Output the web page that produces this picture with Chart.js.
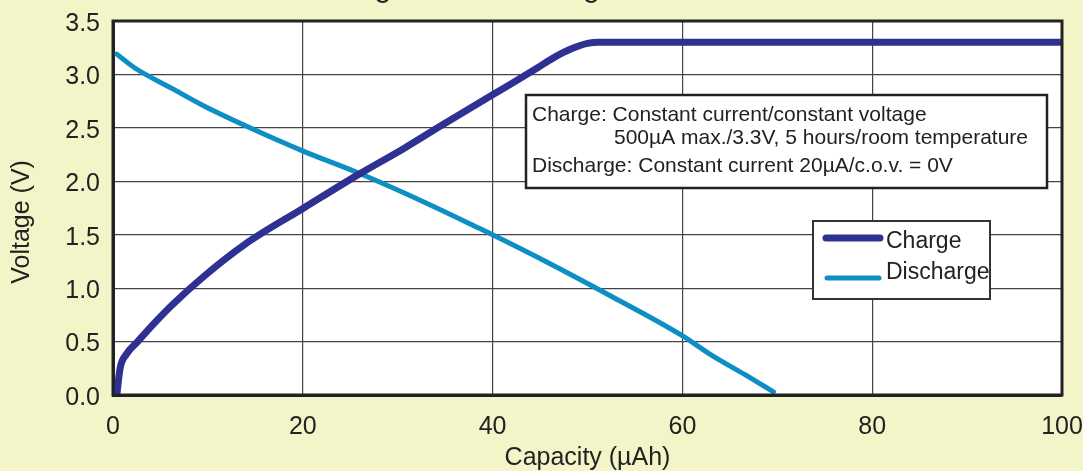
<!DOCTYPE html>
<html>
<head>
<meta charset="utf-8">
<script src="https://cdn.jsdelivr.net/npm/chart.js@4"></script>
<style>
html,body{margin:0;padding:0;background:#f3f4c8;}
#wrap{width:1083px;height:471px;position:relative;}
</style>
</head>
<body>
<div id="wrap"><canvas id="c" width="1083" height="471"></canvas></div>
<script>
// ---- data ----
const chartTitle = "Charge and Discharge Characteristics";
const xTicks = [0, 20, 40, 60, 80, 100];
const yTicks = [0.0, 0.5, 1.0, 1.5, 2.0, 2.5, 3.0, 3.5];

const chargeX = [0.4, 0.75, 1.4, 2.6, 3.7, 6.2, 9.7, 13.9, 20.1, 25.8, 30.7, 34.2, 40.0, 42.1, 44.7, 46.5, 48.3, 50.0, 51.2, 100];
const chargeY = [0.0, 0.25, 0.38, 0.50, 0.61, 0.84, 1.12, 1.41, 1.75, 2.06, 2.31, 2.50, 2.81, 2.92, 3.06, 3.16, 3.24, 3.29, 3.30, 3.30];

const dischargeX = [0.4, 2.3, 6.2, 9.7, 14.2, 20.1, 25.8, 30.7, 38.6, 40.0, 45.6, 52.6, 59.9, 63.1, 66.6, 69.6];
const dischargeY = [3.19, 3.06, 2.87, 2.70, 2.51, 2.28, 2.08, 1.89, 1.56, 1.50, 1.25, 0.92, 0.56, 0.37, 0.19, 0.03];

const seriesLabels = ["Charge", "Discharge"];
const noteLines = [
  "Charge: Constant current/constant voltage",
  "500\u00b5A max./3.3V, 5 hours/room temperature",
  "Discharge: Constant current 20\u00b5A/c.o.v. = 0V"
];

const FONT = "'Liberation Sans', Arial, sans-serif";
const TXT = "#222";

const toPts = (xs, ys) => xs.map((x, i) => ({x: x, y: ys[i]}));

const noPad = (s) => { s.paddingLeft = 0; s.paddingRight = 0; s.paddingTop = 0; s.paddingBottom = 0; };

const plotBg = {
  id: 'plotBg',
  beforeDraw(chart) {
    const {ctx, chartArea: a} = chart;
    ctx.save();
    ctx.fillStyle = '#ffffff';
    ctx.fillRect(a.left, a.top, a.right - a.left, a.bottom - a.top);
    ctx.restore();
  },
  afterDraw(chart) {
    const {ctx, chartArea: a} = chart;
    ctx.save();
    ctx.strokeStyle = '#222';
    ctx.lineWidth = 3;
    ctx.strokeRect(a.left, a.top, a.right - a.left, a.bottom - a.top);

    ctx.fillStyle = TXT;
    ctx.font = "31px " + FONT;
    ctx.textAlign = 'left';
    ctx.textBaseline = 'alphabetic';
    ctx.fillText(chartTitle, 307, -4);

    const nx = 526, ny = 95, nw = 521, nh = 93;
    ctx.fillStyle = '#fff';
    ctx.fillRect(nx, ny, nw, nh);
    ctx.strokeStyle = '#222';
    ctx.lineWidth = 2.5;
    ctx.strokeRect(nx, ny, nw, nh);
    ctx.fillStyle = TXT;
    ctx.font = "21px " + FONT;
    ctx.textBaseline = 'middle';
    ctx.fillText(noteLines[0], 532, 115);
    ctx.fillText(noteLines[1], 614, 138);
    ctx.fillText(noteLines[2], 532, 166);

    const lx = 813, ly = 221, lw = 177, lh = 78;
    ctx.fillStyle = '#fff';
    ctx.fillRect(lx, ly, lw, lh);
    ctx.strokeStyle = '#333';
    ctx.lineWidth = 2;
    ctx.strokeRect(lx, ly, lw, lh);
    const ds = chart.data.datasets;
    const rows = [{y: 238, ty: 242, w: 7, x0: 826, x1: 880}, {y: 278, ty: 273, w: 5, x0: 827, x1: 879}];
    rows.forEach((r, i) => {
      ctx.strokeStyle = ds[i].borderColor;
      ctx.lineWidth = r.w;
      ctx.lineCap = 'round';
      ctx.beginPath();
      ctx.moveTo(r.x0, r.y);
      ctx.lineTo(r.x1, r.y);
      ctx.stroke();
      ctx.fillStyle = TXT;
      ctx.font = "23px " + FONT;
      ctx.textBaseline = 'middle';
      ctx.fillText(ds[i].label, 886, r.ty);
    });
    ctx.restore();
  }
};

new Chart(document.getElementById('c'), {
  type: 'line',
  data: {
    datasets: [
      {
        label: seriesLabels[0],
        data: toPts(chargeX, chargeY),
        borderColor: '#2e3192',
        borderWidth: 7,
        pointRadius: 0,
        cubicInterpolationMode: 'monotone',
        borderCapStyle: 'round',
        borderJoinStyle: 'round',
        fill: false
      },
      {
        label: seriesLabels[1],
        data: toPts(dischargeX, dischargeY),
        borderColor: '#0e8fc4',
        borderWidth: 5,
        pointRadius: 0,
        cubicInterpolationMode: 'monotone',
        borderCapStyle: 'round',
        borderJoinStyle: 'round',
        fill: false
      }
    ]
  },
  options: {
    responsive: false,
    animation: false,
    devicePixelRatio: 1,
    layout: {padding: {top: 21, right: 21, bottom: 0, left: 0}},
    plugins: {legend: {display: false}, tooltip: {enabled: false}, title: {display: false}},
    scales: {
      x: {
        type: 'linear',
        min: 0, max: 100,
        afterBuildTicks: (s) => { s.ticks = xTicks.map(v => ({value: v})); },
        afterFit: (s) => { s.height = 76; noPad(s); },
        grid: {color: '#444', lineWidth: 1.2, drawTicks: false},
        border: {display: true, color: '#222', width: 3},
        ticks: {color: TXT, font: {family: FONT, size: 25}, padding: 17, maxRotation: 0, callback: (v) => String(v)},
        title: {display: true, text: 'Capacity (\u00b5Ah)', color: TXT, font: {family: FONT, size: 25, lineHeight: 1.0}, padding: {top: 0, bottom: 0}}
      },
      y: {
        type: 'linear',
        min: 0, max: 3.5,
        afterBuildTicks: (s) => { s.ticks = yTicks.map(v => ({value: v})); },
        afterFit: (s) => { s.width = 113; noPad(s); },
        grid: {color: '#444', lineWidth: 1.2, drawTicks: false},
        border: {display: true, color: '#222', width: 3},
        ticks: {color: TXT, font: {family: FONT, size: 25}, padding: 13, labelOffset: 3, callback: (v) => Number(v).toFixed(1)},
        title: {display: true, text: 'Voltage (V)\u00a0\u00a0\u00a0\u00a0', color: TXT, font: {family: FONT, size: 25, lineHeight: 1.0}, padding: {top: 10, bottom: 0}}
      }
    }
  },
  plugins: [plotBg]
});
</script>
</body>
</html>
